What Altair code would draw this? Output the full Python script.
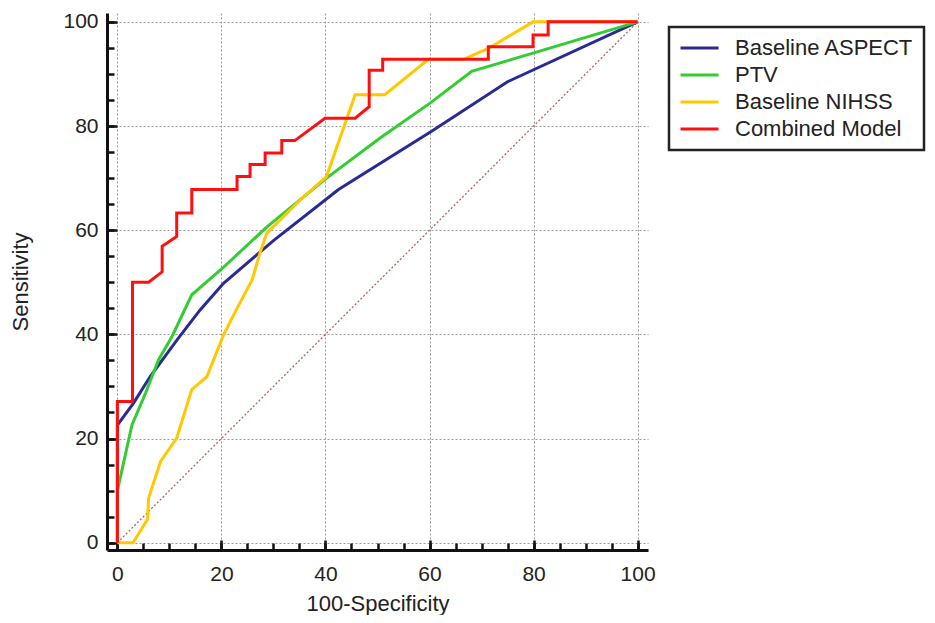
import altair as alt
import pandas as pd

models = ["Baseline ASPECT", "PTV", "Baseline NIHSS", "Combined Model"]
colors = ["#2a2a96", "#33cc33", "#ffc800", "#ff1010"]

aspect_x = [0, 0, 3.1, 6.3, 11.5, 15.9, 20.4, 30.0, 42.5, 60.4, 75.0, 100]
aspect_y = [0, 22.6, 26.8, 31.9, 39.0, 44.7, 49.8, 58.0, 67.8, 79.0, 88.5, 100]

ptv_x = [0, 0, 2.8, 5.4, 7.9, 10.5, 14.3, 20.1, 28.7, 40.2, 50.5, 60.1, 68.1, 79.9, 100]
ptv_y = [0, 10.0, 22.6, 28.7, 35.1, 39.6, 47.6, 52.6, 60.6, 70.0, 77.7, 84.4, 90.5, 94.0, 100]

nihss_x = [0, 3.0, 5.8, 6.0, 8.3, 11.4, 14.3, 17.2, 20.4, 23.0, 25.9, 27.4, 28.7, 35.1, 40.2,
           45.7, 51.4, 59.8, 66.5, 71.3, 79.9, 100]
nihss_y = [0, 0, 4.5, 8.6, 15.6, 20.1, 29.4, 31.9, 39.9, 45.0, 50.5, 55.6, 59.4, 65.8, 70.3,
           86.0, 86.0, 92.8, 92.8, 94.9, 100, 100]

comb_x = [0, 0, 2.9, 2.9, 6.0, 8.6, 8.6, 11.4, 11.4, 14.3, 14.3, 23.0, 23.0, 25.5, 25.5,
          28.4, 28.4, 31.6, 31.6, 34.1, 39.9, 45.7, 48.4, 48.4, 51.0, 51.0, 71.3, 71.3,
          79.9, 79.9, 82.8, 82.8, 100]
comb_y = [0, 27.1, 27.1, 50.0, 50.0, 52.0, 56.9, 58.8, 63.3, 63.3, 67.8, 67.8, 70.3, 70.3, 72.6,
          72.6, 74.8, 74.8, 77.2, 77.2, 81.5, 81.5, 83.7, 90.7, 90.7, 92.8, 92.8, 95.2,
          95.2, 97.5, 97.5, 100, 100]

ref_x = [0, 100]
ref_y = [0, 100]

major_ticks = [0, 20, 40, 60, 80, 100]
all_ticks = list(range(0, 101, 5))

rows = []
for name, xs_, ys_ in [(models[0], aspect_x, aspect_y), (models[1], ptv_x, ptv_y),
                       (models[2], nihss_x, nihss_y), (models[3], comb_x, comb_y)]:
    for i, (a, b) in enumerate(zip(xs_, ys_)):
        rows.append({"model": name, "fpr": a, "tpr": b, "idx": i})
df = pd.DataFrame(rows)
ref_df = pd.DataFrame({"fpr": ref_x, "tpr": ref_y})

FONT = "Liberation Sans"
W, H = 541, 537
xs = alt.Scale(domain=[-2, 102], nice=False, zero=False)
ys = alt.Scale(domain=[-1.4, 101.7], nice=False, zero=False)

is_major = "datum.value % 20 === 0"
grid_op = {"condition": {"test": is_major, "value": 1}, "value": 0}
lab_expr = "datum.value % 20 === 0 ? datum.label : ''"


def main_axis(orient, title, pad, tpad):
    return alt.Axis(
        orient=orient, values=all_ticks, labelExpr=lab_expr,
        grid=True, gridDash=[2, 2], gridColor="#9a9a9a", gridWidth=1, gridOpacity=grid_op,
        ticks=True, tickSize={"expr": "-7"}, tickColor="#111", tickWidth=2.5,
        domainColor="#111", domainWidth=3,
        labelFont=FONT, labelFontSize=21, labelColor="#222", labelPadding=pad, labelFlush=False,
        title=title, titleFont=FONT, titleFontSize=22, titleFontWeight="normal",
        titleColor="#222", titlePadding=tpad)


def major_axis(orient):
    return alt.Axis(orient=orient, values=major_ticks, labels=False, domain=False, grid=False,
                    title=None, ticks=True, tickSize={"expr": "-10"}, tickColor="#111",
                    tickWidth=2.5)


diag = alt.Chart(ref_df).mark_line(color="#a8695f", strokeDash=[2, 2], strokeWidth=1.3).encode(
    x=alt.X("fpr:Q", scale=xs, axis=major_axis("bottom")),
    y=alt.Y("tpr:Q", scale=ys, axis=major_axis("left")),
)

symbol_path = "M-1,0L3,0"

lines = alt.Chart(df).mark_line(strokeWidth=3).encode(
    x=alt.X("fpr:Q", scale=xs, axis=main_axis("bottom", "100-Specificity", 20, 9)),
    y=alt.Y("tpr:Q", scale=ys, axis=main_axis("left", "Sensitivity", 16, 30)),
    color=alt.Color("model:N", sort=models, scale=alt.Scale(domain=models, range=colors),
                    legend=alt.Legend(orient="none", legendX=562, legendY=14, title=None,
                                      labelFont=FONT, labelFontSize=22, labelColor="#222",
                                      symbolType=symbol_path, symbolStrokeWidth=3,
                                      symbolSize=361, padding=10, strokeColor="#222",
                                      labelLimit=400, labelOffset=34, rowPadding=5)),
    order=alt.Order("idx:Q"),
)

chart = alt.layer(diag, lines).resolve_axis(x="independent", y="independent").properties(
    width=W, height=H,
    autosize=alt.AutoSizeParams(type="none"),
    padding={"left": 99, "top": 5, "right": 279, "bottom": 65},
).configure_view(stroke=None).configure_legend(strokeWidth=2.5)

chart.save("out.html", embed_options={"renderer": "svg", "actions": False})
